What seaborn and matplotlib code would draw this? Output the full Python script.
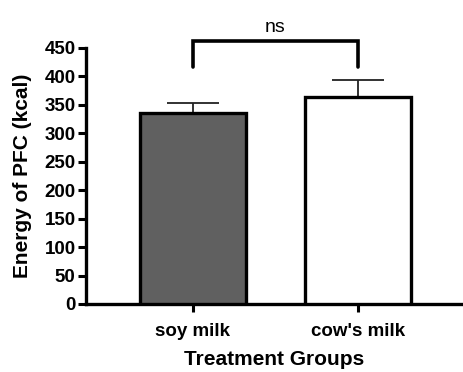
import matplotlib
matplotlib.use("Agg")
import matplotlib.pyplot as plt
import seaborn as sns
import pandas as pd
import numpy as np

groups = ["soy milk", "cow's milk"]
means = [336, 364]
err_up = [18, 30]
bar_colors = ["#606060", "#ffffff"]
yticks = [0, 50, 100, 150, 200, 250, 300, 350, 400, 450]

sns.set_style("ticks")
plt.rcParams['font.family'] = ['Liberation Sans', 'DejaVu Sans']
plt.rcParams.update({"text.color": "black", "axes.labelcolor": "black",
                     "xtick.color": "black", "ytick.color": "black"})

df = pd.DataFrame({"group": groups, "mean": means})

fig = plt.figure(figsize=(4.63, 3.72), dpi=100)
ax = fig.add_axes([86/463, 68/372, 1 - 86/463, (304 - 48)/372])

sns.barplot(data=df, x="group", y="mean", hue="group", palette=bar_colors,
            legend=False, width=0.64, edgecolor="black", linewidth=2.4,
            errorbar=None, ax=ax, zorder=3)

xs = np.arange(len(groups))
ax.errorbar(xs, means, yerr=[np.zeros(len(means)), err_up], fmt="none",
            ecolor="#222222", elinewidth=1.3, capsize=19, capthick=1.3, zorder=2)

ax.set_xlim(-0.648, 1.636)
ax.set_ylim(0, 450)
ax.set_yticks(yticks)
ax.set_yticklabels([str(t) for t in yticks], fontsize=13.5, fontweight="bold")
ax.set_xticks(xs)
ax.set_xticklabels(groups, fontsize=13.5, fontweight="bold")
ax.tick_params(axis="both", width=2.2, length=6, color="black", pad=1.5)
ax.tick_params(axis="x", pad=8)
for s in ["left", "bottom"]:
    ax.spines[s].set_linewidth(2.4)
    ax.spines[s].set_color("black")
sns.despine(ax=ax)

ax.set_ylabel("Energy of PFC (kcal)", fontsize=15, fontweight="bold", labelpad=9)
ax.set_xlabel("Treatment Groups", fontsize=15, fontweight="bold", labelpad=7)

# significance bracket
y0, y1 = 417, 462
ax.plot([xs[0], xs[0], xs[1], xs[1]], [y0, y1, y1, y0], color="black",
        lw=2.6, clip_on=False, solid_joinstyle="miter")
ax.text((xs[0] + xs[1]) / 2, y1 + 9, "ns", ha="center", va="bottom",
        fontsize=14, clip_on=False)

fig.savefig("out.png", dpi=100)
